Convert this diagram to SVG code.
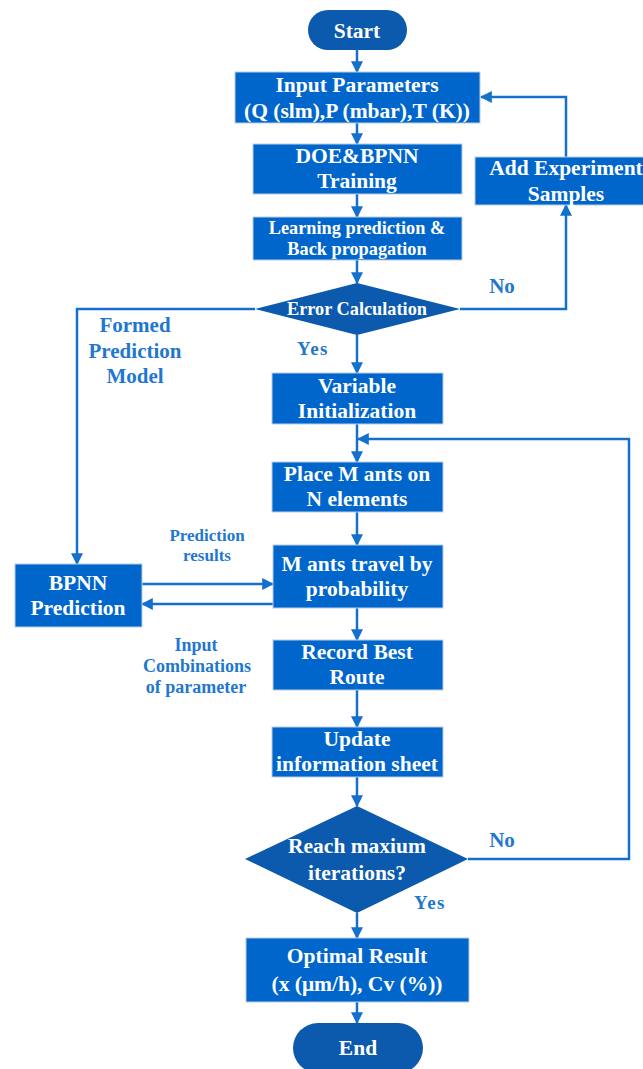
<svg xmlns="http://www.w3.org/2000/svg" width="643" height="1069" viewBox="0 0 643 1069">
<defs>
<marker id="ah" viewBox="0 0 10 10" refX="9" refY="5" markerWidth="12" markerHeight="12" markerUnits="userSpaceOnUse" orient="auto">
<path d="M0,0 L10,5 L0,10 z" fill="#1470CC"/>
</marker>
<style>
.box{fill:#0066CC;stroke:#B8CDE6;stroke-width:1}
.dk{fill:#0B5AAD}
.t{font-family:"Liberation Serif","Times New Roman",serif;font-weight:bold;fill:#fff;text-anchor:middle;font-size:21.5px}
.s{font-size:18.3px}
.lb{font-family:"Liberation Serif","Times New Roman",serif;font-weight:bold;fill:#1F77D0;text-anchor:middle}
.c{fill:none;stroke:#1470CC;stroke-width:2.5}
</style>
</defs>
<rect width="643" height="1069" fill="#fff"/>
<g id="connectors">
<path class="c" d="M357,50 V72" marker-end="url(#ah)"/>
<path class="c" d="M357,123 V144" marker-end="url(#ah)"/>
<path class="c" d="M357,194 V217" marker-end="url(#ah)"/>
<path class="c" d="M357,260 V283" marker-end="url(#ah)"/>
<path class="c" d="M357,335 V373" marker-end="url(#ah)"/>
<path class="c" d="M357,424 V462" marker-end="url(#ah)"/>
<path class="c" d="M357,512 V545" marker-end="url(#ah)"/>
<path class="c" d="M357,608 V640" marker-end="url(#ah)"/>
<path class="c" d="M357,690 V727" marker-end="url(#ah)"/>
<path class="c" d="M357,777 V806" marker-end="url(#ah)"/>
<path class="c" d="M357,913 V938" marker-end="url(#ah)"/>
<path class="c" d="M357,1002 V1023" marker-end="url(#ah)"/>
<path class="c" d="M255,309 H77 V564" marker-end="url(#ah)"/>
<path class="c" d="M460,309 H566 V205" marker-end="url(#ah)"/>
<path class="c" d="M566,157 V97 H481" marker-end="url(#ah)"/>
<path class="c" d="M142,584 H273" marker-end="url(#ah)"/>
<path class="c" d="M273,604 H142" marker-end="url(#ah)"/>
<path class="c" d="M468,859 H629 V439 H358" marker-end="url(#ah)"/>
</g>
<g id="start"><rect class="dk" x="308" y="10" width="99" height="40" rx="20"/><text class="t" x="357" y="38" font-size="25">Start</text></g>
<g id="input"><rect class="box" x="235" y="72" width="245" height="51"/><text class="t" x="357" y="92">Input Parameters</text><text class="t" x="357" y="118">(Q (slm),P (mbar),T (K))</text></g>
<g id="doe"><rect class="box" x="253" y="144" width="209" height="50"/><text class="t" x="357" y="163">DOE&amp;BPNN</text><text class="t" x="357" y="188">Training</text></g>
<g id="learning"><rect class="box" x="253" y="217" width="209" height="43"/><text class="t s" x="357" y="234">Learning prediction &amp;</text><text class="t s" x="357" y="255">Back propagation</text></g>
<g id="error"><polygon class="dk" points="357,283 460,309 357,335 255,309"/><text class="t s" x="357" y="315">Error Calculation</text></g>
<g id="add"><rect class="box" x="475" y="157" width="185" height="48"/><text class="t" x="566" y="175">Add Experiment</text><text class="t" x="566" y="201">Samples</text></g>
<g id="formed"><text class="lb" x="135" y="332" font-size="21">Formed</text><text class="lb" x="135" y="358" font-size="21">Prediction</text><text class="lb" x="135" y="383" font-size="21">Model</text></g>
<g id="lbl-no1"><text class="lb" x="502" y="293" font-size="21">No</text></g>
<g id="lbl-yes1"><text class="lb" x="313" y="355" font-size="19" letter-spacing="1.5">Yes</text></g>
<g id="var"><rect class="box" x="272" y="373" width="171" height="51"/><text class="t" x="357" y="393">Variable</text><text class="t" x="357" y="418">Initialization</text></g>
<g id="place"><rect class="box" x="272" y="462" width="171" height="50"/><text class="t" x="357" y="481">Place M ants on</text><text class="t" x="357" y="506">N elements</text></g>
<g id="mants"><rect class="box" x="273" y="545" width="170" height="63"/><text class="t" x="357" y="571">M ants travel by</text><text class="t" x="357" y="596">probability</text></g>
<g id="bpnn"><rect class="box" x="15" y="564" width="127" height="63"/><text class="t" x="78" y="590">BPNN</text><text class="t" x="78" y="615">Prediction</text></g>
<g id="lbl-pred"><text class="lb" x="207" y="541" font-size="17">Prediction</text><text class="lb" x="207" y="561" font-size="17">results</text></g>
<g id="lbl-input"><text class="lb" x="196" y="651" font-size="18">Input</text><text class="lb" x="197" y="672" font-size="18">Combinations</text><text class="lb" x="196" y="693" font-size="18">of parameter</text></g>
<g id="record"><rect class="box" x="273" y="640" width="170" height="50"/><text class="t" x="357" y="659">Record Best</text><text class="t" x="357" y="684">Route</text></g>
<g id="update"><rect class="box" x="272" y="727" width="171" height="50"/><text class="t" x="357" y="746">Update</text><text class="t" x="357" y="771">information sheet</text></g>
<g id="reach"><polygon class="dk" points="357,806 468,859 357,913 245,859"/><text class="t" x="357" y="853">Reach maxium</text><text class="t" x="357" y="880">iterations?</text></g>
<g id="lbl-no2"><text class="lb" x="502" y="847" font-size="21">No</text></g>
<g id="lbl-yes2"><text class="lb" x="430" y="909" font-size="19" letter-spacing="1.5">Yes</text></g>
<g id="optimal"><rect class="box" x="246" y="938" width="223" height="64"/><text class="t" x="357" y="963">Optimal Result</text><text class="t" x="357" y="991">(x (μm/h), Cv (%))</text></g>
<g id="end"><rect class="dk" x="293" y="1023" width="130" height="50" rx="25"/><text class="t" x="358" y="1055" font-size="22">End</text></g>
</svg>
